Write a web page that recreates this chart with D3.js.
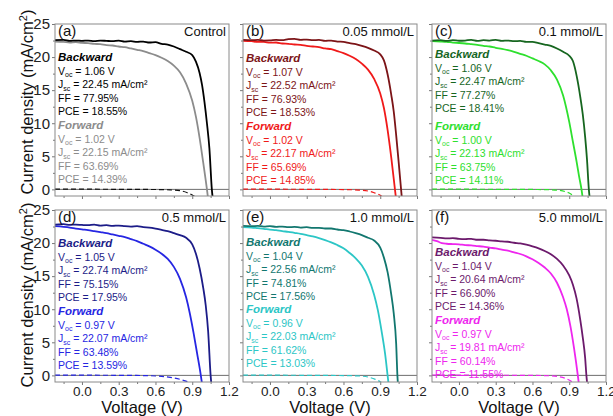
<!DOCTYPE html>
<html><head><meta charset="utf-8">
<script src="https://cdn.jsdelivr.net/npm/d3@7"></script>
<style>
body{margin:0;background:#fff}
svg{display:block;font-family:"Liberation Sans",Arial,sans-serif}
</style>
</head><body>
<svg id="chart" width="613" height="416"></svg>
<script>
// ---- panel captions ----
const panelLetters = ["(a)", "(b)", "(c)", "(d)", "(e)", "(f)"];
const panelTitles = ["Control", "0.05 mmol/L", "0.1 mmol/L", "0.5 mmol/L", "1.0 mmol/L", "5.0 mmol/L"];

// ---- photovoltaic parameters (backward / forward scans) ----
const vocBackward = [1.06, 1.07, 1.06, 1.05, 1.04, 1.04];
const jscBackward = [22.45, 22.52, 22.47, 22.74, 22.56, 20.64];
const ffBackward  = [77.95, 76.93, 77.27, 75.15, 74.81, 66.90];
const pceBackward = [18.55, 18.53, 18.41, 17.95, 17.56, 14.36];
const vocForward  = [1.02, 1.02, 1.00, 0.97, 0.96, 0.97];
const jscForward  = [22.15, 22.17, 22.13, 22.07, 22.03, 19.81];
const ffForward   = [63.69, 65.69, 63.75, 63.48, 61.62, 60.14];
const pceForward  = [14.39, 14.85, 14.11, 13.59, 13.03, 11.55];

// ---- axis ticks ----
const xTicks = [0.0, 0.3, 0.6, 0.9, 1.2];
const xMinorTicks = [-0.15, 0.15, 0.45, 0.75, 1.05];
const yTicks = [0, 5, 10, 15, 20, 25];
const yMinorTicks = [2.5, 7.5, 12.5, 17.5, 22.5];

// ---- J-V curves: [voltage (V), current density (mA/cm2)] ----
const controlBackward = [[-0.22,22.55],[-0.15,22.6],[-0.1,22.45],[-0.05,22.5],[0,22.45],[0.05,22.5],[0.1,22.4],[0.15,22.5],[0.2,22.45],[0.25,22.4],[0.3,22.5],[0.35,22.35],[0.4,22.4],[0.45,22.3],[0.5,22.35],[0.55,22.2],[0.6,22.25],[0.65,22.0],[0.7,21.9],[0.75,21.6],[0.8,21.2],[0.85,20.8],[0.9,20.3],[0.93,19.3],[0.96,17.6],[0.98,15.8],[1.0,13.2],[1.02,10.0],[1.04,6.2],[1.06,0],[1.07,-1.8]];
const controlForward = [[-0.22,22.35],[-0.15,22.3],[-0.1,22.2],[-0.05,22.25],[0,22.15],[0.05,22.1],[0.1,22.0],[0.15,21.95],[0.2,21.8],[0.25,21.75],[0.3,21.6],[0.35,21.5],[0.4,21.3],[0.45,21.1],[0.5,20.9],[0.55,20.6],[0.6,20.3],[0.65,19.9],[0.7,19.4],[0.75,18.7],[0.8,17.7],[0.85,16.0],[0.9,13.4],[0.93,11.0],[0.96,7.8],[0.99,4.0],[1.02,0],[1.03,-1.5]];
const mmol005Backward = [[-0.22,22.6],[-0.15,22.55],[-0.1,22.6],[-0.05,22.5],[0,22.52],[0.05,22.6],[0.1,22.55],[0.15,22.7],[0.2,22.75],[0.25,22.6],[0.3,22.65],[0.35,22.55],[0.4,22.6],[0.45,22.45],[0.5,22.5],[0.55,22.35],[0.6,22.3],[0.65,22.1],[0.7,21.95],[0.75,21.7],[0.8,21.4],[0.85,21.0],[0.9,20.4],[0.93,19.5],[0.96,17.4],[0.99,14.3],[1.01,11.8],[1.03,8.2],[1.05,4.2],[1.07,0],[1.08,-2]];
const mmol005Forward = [[-0.22,22.45],[-0.15,22.4],[-0.1,22.3],[-0.05,22.3],[0,22.17],[0.05,22.2],[0.1,22.05],[0.15,22.0],[0.2,21.9],[0.25,21.85],[0.3,21.7],[0.35,21.6],[0.4,21.5],[0.45,21.3],[0.5,21.2],[0.55,20.9],[0.6,20.6],[0.65,20.2],[0.7,19.7],[0.75,19.0],[0.8,18.1],[0.85,16.7],[0.9,14.5],[0.93,12.3],[0.96,9.0],[0.99,4.8],[1.02,0],[1.03,-1.6]];
const mmol01Backward = [[-0.22,22.5],[-0.15,22.55],[-0.1,22.45],[-0.05,22.55],[0,22.47],[0.05,22.5],[0.1,22.6],[0.15,22.45],[0.2,22.55],[0.25,22.5],[0.3,22.6],[0.35,22.45],[0.4,22.5],[0.45,22.4],[0.5,22.45],[0.55,22.3],[0.6,22.3],[0.65,22.1],[0.7,21.9],[0.75,21.7],[0.8,21.3],[0.85,20.8],[0.9,20.2],[0.93,19.4],[0.96,17.2],[0.99,14.0],[1.01,11.4],[1.03,7.9],[1.045,4.5],[1.06,0],[1.07,-1.8]];
const mmol01Forward = [[-0.22,22.4],[-0.15,22.35],[-0.1,22.3],[-0.05,22.2],[0,22.13],[0.05,22.05],[0.1,21.95],[0.15,21.85],[0.2,21.7],[0.25,21.6],[0.3,21.4],[0.35,21.25],[0.4,21.05],[0.45,20.8],[0.5,20.5],[0.55,20.2],[0.6,19.8],[0.65,19.4],[0.7,18.9],[0.75,18.0],[0.8,16.6],[0.85,14.2],[0.9,10.2],[0.93,7.2],[0.96,4.2],[0.98,2.0],[1.0,0],[1.01,-1.3]];
const mmol05Backward = [[-0.22,22.8],[-0.15,22.85],[-0.1,22.75],[-0.05,22.8],[0,22.74],[0.05,22.7],[0.1,22.8],[0.15,22.65],[0.2,22.7],[0.25,22.6],[0.3,22.65],[0.35,22.55],[0.4,22.5],[0.45,22.55],[0.5,22.4],[0.55,22.35],[0.6,22.2],[0.65,22.0],[0.7,21.8],[0.75,21.5],[0.8,21.2],[0.85,20.8],[0.9,19.8],[0.93,18.4],[0.96,16.2],[0.99,13.2],[1.01,10.6],[1.03,6.6],[1.05,0],[1.06,-2]];
const mmol05Forward = [[-0.22,22.55],[-0.15,22.45],[-0.1,22.35],[-0.05,22.2],[0,22.07],[0.05,21.95],[0.1,21.8],[0.15,21.65],[0.2,21.5],[0.25,21.3],[0.3,21.1],[0.35,20.9],[0.4,20.6],[0.45,20.3],[0.5,19.9],[0.55,19.5],[0.6,19.0],[0.65,18.4],[0.7,17.6],[0.75,16.4],[0.8,14.6],[0.85,11.8],[0.88,9.4],[0.91,6.5],[0.94,3.3],[0.97,0],[0.98,-1.3]];
const mmol10Backward = [[-0.22,22.6],[-0.15,22.55],[-0.1,22.6],[-0.05,22.5],[0,22.56],[0.05,22.45],[0.1,22.5],[0.15,22.4],[0.2,22.45],[0.25,22.35],[0.3,22.4],[0.35,22.3],[0.4,22.3],[0.45,22.2],[0.5,22.2],[0.55,22.05],[0.6,21.95],[0.65,21.75],[0.7,21.5],[0.75,21.2],[0.8,20.8],[0.85,20.4],[0.9,19.3],[0.93,17.8],[0.96,15.6],[0.99,12.2],[1.01,9.4],[1.03,4.8],[1.04,0],[1.05,-2.4]];
const mmol10Forward = [[-0.22,22.4],[-0.15,22.35],[-0.1,22.25],[-0.05,22.15],[0,22.03],[0.05,21.95],[0.1,21.8],[0.15,21.7],[0.2,21.55],[0.25,21.4],[0.3,21.2],[0.35,21.0],[0.4,20.75],[0.45,20.45],[0.5,20.1],[0.55,19.7],[0.6,19.2],[0.65,18.5],[0.7,17.7],[0.75,16.6],[0.8,14.9],[0.85,12.2],[0.88,9.9],[0.91,6.8],[0.94,3.2],[0.96,0],[0.97,-1.6]];
const mmol50Backward = [[-0.22,20.85],[-0.15,20.8],[-0.1,20.7],[-0.05,20.75],[0,20.64],[0.05,20.6],[0.1,20.65],[0.15,20.5],[0.2,20.5],[0.25,20.4],[0.3,20.35],[0.35,20.25],[0.4,20.2],[0.45,20.05],[0.5,19.95],[0.55,19.75],[0.6,19.5],[0.65,19.2],[0.7,18.8],[0.75,18.3],[0.8,17.6],[0.85,16.6],[0.9,15.1],[0.93,13.7],[0.96,11.6],[0.99,8.4],[1.01,5.8],[1.03,2.6],[1.04,0],[1.05,-1.8]];
const mmol50Forward = [[-0.22,20.5],[-0.18,20.3],[-0.14,20.0],[-0.1,19.9],[-0.05,19.85],[0,19.81],[0.05,19.7],[0.1,19.65],[0.15,19.55],[0.2,19.45],[0.25,19.3],[0.3,19.2],[0.35,19.0],[0.4,18.85],[0.45,18.6],[0.5,18.35],[0.55,18.0],[0.6,17.55],[0.65,17.0],[0.7,16.3],[0.75,15.4],[0.8,14.0],[0.85,11.8],[0.88,10.0],[0.91,7.4],[0.94,4.0],[0.97,0],[0.98,-1.5]];

// ---- dark J-V curves (dashed) ----
const darkControl = [[-0.22,0.05],[0,0.03],[0.2,0.02],[0.4,0.0],[0.6,-0.02],[0.72,-0.08],[0.8,-0.2],[0.86,-0.5],[0.9,-0.85],[0.94,-1.3]];
const dark005 = [[-0.22,0.05],[0,0.03],[0.2,0.02],[0.4,0.0],[0.6,-0.03],[0.72,-0.1],[0.8,-0.25],[0.85,-0.5],[0.9,-0.9],[0.93,-1.3]];
const dark01 = [[-0.22,0.05],[0,0.04],[0.2,0.02],[0.4,0.01],[0.6,-0.01],[0.75,-0.06],[0.82,-0.15],[0.87,-0.35],[0.91,-0.65],[0.95,-1.3]];
const dark05 = [[-0.22,0.05],[0,0.03],[0.2,0.02],[0.4,0.0],[0.55,-0.05],[0.65,-0.15],[0.72,-0.3],[0.8,-0.6],[0.86,-0.95],[0.9,-1.3]];
const dark10 = [[-0.22,0.05],[0,0.03],[0.2,0.02],[0.4,0.0],[0.6,-0.03],[0.72,-0.08],[0.8,-0.25],[0.86,-0.6],[0.9,-0.95],[0.93,-1.3]];
const dark50 = [[-0.22,0.06],[0,0.04],[0.2,0.03],[0.4,0.02],[0.6,0.0],[0.74,-0.06],[0.82,-0.2],[0.87,-0.45],[0.91,-0.8],[0.95,-1.3]];

const backwardCurves = [controlBackward, mmol005Backward, mmol01Backward, mmol05Backward, mmol10Backward, mmol50Backward];
const forwardCurves = [controlForward, mmol005Forward, mmol01Forward, mmol05Forward, mmol10Forward, mmol50Forward];
const darkCurves = [darkControl, dark005, dark01, dark05, dark10, dark50];

// ---- styling ----
const backwardColors = ["#000000", "#7c1417", "#16661f", "#1c1c88", "#12776f", "#6c1a6c"];
const forwardColors  = ["#8c8c8c", "#f01a1a", "#2ee02e", "#2626e2", "#2cc6c6", "#ee26ee"];
const darkColors     = ["#111111", "#f01a1a", "#2ee02e", "#2626e2", "#2cc6c6", "#ee26ee"];

// ---- layout ----
const colX = [55, 243, 432];
const rowY = [24, 210];
const W = 174, H = 172;
const backBlockTop = [37, 38, 34, 37, 36, 46];
const fwdBlockTop  = [105, 106, 106, 105, 103, 114];
const lineStep = 13.6;

const svg = d3.select("#chart");
const x = d3.scaleLinear().domain([-0.22, 1.2]).range([0, W]);
const y = d3.scaleLinear().domain([-1, 25]).range([H, 0]);
const line = d3.line().x(d => x(d[0])).y(d => y(d[1])).curve(d3.curveMonotoneX);

function statLines(g, tx, ty, header, color, voc, jsc, ff, pce) {
  const t = g.append("g").attr("fill", color).style("font-size", "10.5px");
  t.append("text").attr("x", tx).attr("y", ty)
    .style("font-weight", "bold").style("font-style", "italic").style("font-size", "11.5px")
    .text(header);
  const l1 = t.append("text").attr("x", tx).attr("y", ty + lineStep);
  l1.append("tspan").text("V");
  l1.append("tspan").attr("dy", 2.5).style("font-size", "7px").text("oc");
  l1.append("tspan").attr("dy", -2.5).text(" = " + voc.toFixed(2) + " V");
  const l2 = t.append("text").attr("x", tx).attr("y", ty + 2 * lineStep);
  l2.append("tspan").text("J");
  l2.append("tspan").attr("dy", 2.5).style("font-size", "7px").text("sc");
  l2.append("tspan").attr("dy", -2.5).text(" = " + jsc.toFixed(2) + " mA/cm²");
  t.append("text").attr("x", tx).attr("y", ty + 3 * lineStep).text("FF = " + ff.toFixed(2) + "%");
  t.append("text").attr("x", tx).attr("y", ty + 4 * lineStep).text("PCE = " + pce.toFixed(2) + "%");
}

panelLetters.forEach((letter, i) => {
  const col = i % 3, row = Math.floor(i / 3);
  const g = svg.append("g").attr("transform", `translate(${colX[col]},${rowY[row]})`);

  const clipId = "clip" + i;
  g.append("clipPath").attr("id", clipId).append("rect").attr("width", W).attr("height", H);

  // axes with outward ticks
  const yAxis = d3.axisLeft(y).tickValues(yTicks).tickSize(3).tickPadding(2)
    .tickFormat(col === 0 ? d3.format("d") : "");
  const ya = g.append("g").call(yAxis);
  const yMinor = g.append("g").call(d3.axisLeft(y).tickValues(yMinorTicks).tickSize(2).tickFormat(""));
  const xAxis = d3.axisBottom(x).tickValues(xTicks).tickSize(3).tickPadding(1)
    .tickFormat(row === 1 ? d3.format(".1f") : "");
  const xa = g.append("g").attr("transform", `translate(0,${H})`).call(xAxis);
  const xMinor = g.append("g").attr("transform", `translate(0,${H})`)
    .call(d3.axisBottom(x).tickValues(xMinorTicks).tickSize(2).tickFormat(""));
  [ya, yMinor, xa, xMinor].forEach(a => {
    a.select(".domain").remove();
    a.selectAll("line").attr("stroke", "#777");
    a.selectAll("text").attr("fill", "#222")
      .style("font-family", "'Liberation Sans', Arial, sans-serif");
  });
  ya.selectAll("text").style("font-size", "15px");
  xa.selectAll("text").style("font-size", "13.5px");

  // zero-current reference line
  g.append("line").attr("x1", 0).attr("x2", W).attr("y1", y(0)).attr("y2", y(0))
    .attr("stroke", "#6e6e6e").attr("stroke-width", 1);

  const plot = g.append("g").attr("clip-path", `url(#${clipId})`);
  plot.append("path").datum(darkCurves[i]).attr("d", line).attr("fill", "none")
    .attr("stroke", darkColors[i]).attr("stroke-width", 1.2).attr("stroke-dasharray", "5,3");
  plot.append("path").datum(forwardCurves[i]).attr("d", line).attr("fill", "none")
    .attr("stroke", forwardColors[i]).attr("stroke-width", 1.8);
  plot.append("path").datum(backwardCurves[i]).attr("d", line).attr("fill", "none")
    .attr("stroke", backwardColors[i]).attr("stroke-width", 1.8);

  // frame
  g.append("rect").attr("width", W).attr("height", H).attr("fill", "none")
    .attr("stroke", "#8a8a8a").attr("stroke-width", 1);

  // captions
  g.append("text").attr("x", 3).attr("y", 12).attr("fill", "#111")
    .style("font-size", "15px").text(letter);
  g.append("text").attr("x", W - 3).attr("y", 12).attr("text-anchor", "end").attr("fill", "#111")
    .style("font-size", "13px").text(panelTitles[i]);

  statLines(g, 3, backBlockTop[i], "Backward", backwardColors[i],
    vocBackward[i], jscBackward[i], ffBackward[i], pceBackward[i]);
  statLines(g, 3, fwdBlockTop[i], "Forward", forwardColors[i],
    vocForward[i], jscForward[i], ffForward[i], pceForward[i]);

  if (row === 1) {
    g.append("text").attr("x", W / 2).attr("y", H + 31).attr("text-anchor", "middle")
      .attr("fill", "#111").style("font-size", "16.5px").text("Voltage (V)");
  }
});

// y-axis titles, one per row
rowY.forEach((top, r) => {
  const t = svg.append("text")
    .attr("transform", `translate(33,${top + H / 2 - (r === 0 ? 8 : 1)}) rotate(-90)`)
    .attr("text-anchor", "middle").attr("fill", "#111").style("font-size", "16.5px");
  t.append("tspan").text("Current density (mA/cm");
  t.append("tspan").attr("dy", -6).style("font-size", "11px").text("2");
  t.append("tspan").attr("dy", 6).text(")");
});
</script>
</body></html>
